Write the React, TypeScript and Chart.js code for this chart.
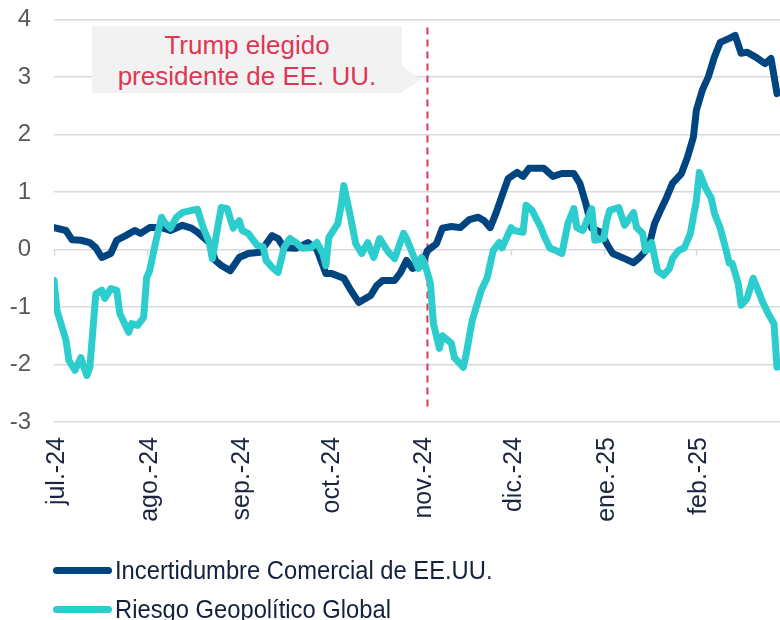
import { useEffect, useRef } from "react";
import { Chart, registerables } from "chart.js";

Chart.register(...registerables);

// Month tick labels and the day offsets (from 1 Jul 2024) at which they start
const monthLabels = ["jul.-24", "ago.-24", "sep.-24", "oct.-24", "nov.-24", "dic.-24", "ene.-25", "feb.-25"];
const monthStartDays = [0, 31, 62, 92, 123, 153, 184, 215];
const lastDay = 243;

// Election marker
const electionDay = 125;
const markerTop = 3.86;
const markerBottom = -2.77;

// Incertidumbre Comercial de EE.UU.
const tradeDays = [0, 4, 6, 9, 12, 14, 16, 19, 21, 24, 27, 29, 32, 36, 39, 43, 46, 48, 52, 54, 56, 59, 62, 65, 69, 73, 75, 77, 81, 85, 88, 91, 93, 97, 99, 102, 106, 108, 110, 114, 116, 118, 120, 123, 125, 128, 130, 133, 136, 139, 142, 144, 146, 148, 150, 152, 155, 157, 159, 164, 167, 170, 174, 176, 178, 180, 183, 185, 187, 191, 194, 196, 199, 201, 203, 205, 207, 210, 212, 214, 215, 217, 219, 221, 223, 226, 228, 230, 232, 235, 238, 240, 242];
const tradeValues = [0.38, 0.33, 0.17, 0.16, 0.12, 0.03, -0.14, -0.07, 0.16, 0.24, 0.33, 0.28, 0.38, 0.38, 0.33, 0.42, 0.37, 0.30, 0.12, -0.19, -0.28, -0.37, -0.14, -0.07, -0.05, 0.24, 0.19, 0.03, 0.02, 0.12, 0.0, -0.42, -0.42, -0.5, -0.68, -0.92, -0.8, -0.63, -0.54, -0.54, -0.40, -0.19, -0.33, -0.28, -0.02, 0.1, 0.37, 0.40, 0.38, 0.52, 0.56, 0.50, 0.38, 0.64, 0.94, 1.23, 1.34, 1.27, 1.41, 1.41, 1.27, 1.32, 1.32, 1.15, 0.80, 0.37, 0.30, 0.10, -0.07, -0.16, -0.23, -0.14, 0.03, 0.45, 0.68, 0.9, 1.15, 1.32, 1.6, 1.95, 2.42, 2.77, 3.0, 3.34, 3.6, 3.67, 3.72, 3.41, 3.43, 3.34, 3.23, 3.32, 2.71];

// Riesgo Geopolítico Global
const geoDays = [0, 1, 4, 5, 7, 9, 10, 11, 12, 14, 16, 17, 19, 21, 22, 25, 26, 28, 30, 31, 32, 34, 36, 37, 39, 41, 43, 46, 48, 50, 52, 53, 55, 56, 58, 60, 62, 63, 65, 68, 70, 71, 73, 75, 77, 79, 81, 83, 86, 88, 90, 91, 92, 95, 96, 97, 99, 101, 103, 105, 107, 109, 112, 114, 117, 118, 120, 122, 123, 124, 126, 127, 129, 130, 133, 134, 137, 138, 140, 143, 145, 147, 149, 150, 153, 154, 157, 158, 160, 163, 164, 166, 168, 170, 172, 174, 175, 177, 180, 181, 184, 185, 186, 189, 191, 194, 195, 197, 198, 200, 202, 204, 206, 207, 209, 211, 213, 215, 216, 218, 220, 221, 223, 225, 226, 227, 229, 230, 232, 234, 236, 237, 239, 241, 242];
const geoValues = [-0.54, -1.06, -1.58, -1.93, -2.1, -1.88, -2.05, -2.19, -2.05, -0.77, -0.71, -0.85, -0.68, -0.71, -1.11, -1.44, -1.29, -1.32, -1.18, -0.49, -0.37, 0.12, 0.56, 0.47, 0.37, 0.56, 0.64, 0.68, 0.7, 0.37, 0.12, -0.16, 0.45, 0.73, 0.71, 0.37, 0.5, 0.33, 0.28, 0.07, 0.05, -0.19, -0.31, -0.4, 0.03, 0.19, 0.12, 0.02, 0.03, 0.12, -0.07, -0.28, 0.21, 0.45, 0.73, 1.11, 0.63, 0.1, -0.07, 0.12, -0.14, 0.19, -0.05, -0.16, 0.28, 0.19, -0.07, -0.33, -0.14, -0.23, -0.59, -1.29, -1.72, -1.5, -1.63, -1.88, -2.05, -1.81, -1.23, -0.71, -0.49, -0.02, 0.12, 0.03, 0.38, 0.33, 0.3, 0.77, 0.68, 0.38, 0.24, 0.02, -0.02, -0.07, 0.45, 0.71, 0.38, 0.33, 0.71, 0.16, 0.19, 0.5, 0.68, 0.73, 0.42, 0.64, 0.38, 0.28, -0.02, 0.12, -0.37, -0.45, -0.33, -0.16, -0.02, 0.03, 0.28, 0.85, 1.34, 1.08, 0.89, 0.64, 0.37, -0.02, -0.24, -0.24, -0.59, -0.97, -0.85, -0.5, -0.75, -0.89, -1.11, -1.29, -2.05];

const seriesNames = ["Incertidumbre Comercial de EE.UU.", "Riesgo Geopolítico Global"];
const seriesColors = ["#00457f", "#2ecdcd"];
const annotationLines = ["Trump elegido", "presidente de EE. UU."];

const FONT = "'Liberation Sans', Arial, sans-serif";
const RED = "#de3755";
const CANVAS_SHIFT = 18;

const overlayPlugin = {
  id: "overlay",
  beforeDatasetsDraw(chart: any) {
    const { ctx } = chart;
    const x = chart.scales.x;
    const y = chart.scales.y;
    ctx.save();
    const y0 = y.getPixelForValue(0);
    ctx.strokeStyle = "#d9d9d9";
    ctx.lineWidth = 1.5;
    monthStartDays.forEach((d) => {
      const px = Math.round(x.getPixelForValue(d)) + 0.5;
      ctx.beginPath();
      ctx.moveTo(px, y0);
      ctx.lineTo(px, y0 + 6);
      ctx.stroke();
    });
    const mx = x.getPixelForValue(electionDay);
    ctx.strokeStyle = RED;
    ctx.lineWidth = 2;
    ctx.setLineDash([7, 5]);
    ctx.beginPath();
    ctx.moveTo(mx, y.getPixelForValue(markerTop));
    ctx.lineTo(mx, y.getPixelForValue(markerBottom));
    ctx.stroke();
    ctx.restore();
  },
};

export default function App() {
  const ref = useRef<HTMLCanvasElement>(null);

  useEffect(() => {
    const chart = new Chart(ref.current as HTMLCanvasElement, {
      type: "line",
      data: {
        datasets: [
          {
            label: seriesNames[0],
            data: tradeDays.map((d, i) => ({ x: d, y: tradeValues[i] })),
            borderColor: seriesColors[0],
            borderWidth: 7,
            pointRadius: 0,
            tension: 0,
            borderCapStyle: "round",
            borderJoinStyle: "round",
            order: 2,
          },
          {
            label: seriesNames[1],
            data: geoDays.map((d, i) => ({ x: d, y: geoValues[i] })),
            borderColor: seriesColors[1],
            borderWidth: 7,
            pointRadius: 0,
            tension: 0,
            borderCapStyle: "round",
            borderJoinStyle: "round",
            order: 1,
          },
        ],
      },
      options: {
        responsive: false,
        animation: false,
        devicePixelRatio: 1,
        layout: { padding: { top: 1, left: 0, right: 0, bottom: 0 } },
        plugins: { legend: { display: false }, tooltip: { enabled: false } },
        scales: {
          x: {
            type: "linear",
            min: 0,
            max: lastDay,
            grid: { display: false, drawTicks: false },
            border: { display: false },
            afterBuildTicks: (scale: any) => {
              scale.ticks = monthStartDays.map((v) => ({ value: v }));
            },
            afterFit: (scale: any) => {
              scale.height = 198;
            },
            ticks: {
              autoSkip: false,
              minRotation: 90,
              maxRotation: 90,
              padding: 15,
              labelOffset: 3,
              color: "#1d2640",
              font: { family: FONT, size: 25 },
              callback: (_v: any, i: number) => monthLabels[i],
            },
          },
          y: {
            min: -3,
            max: 4,
            grid: { color: "#d9d9d9", lineWidth: 1.5, drawTicks: false },
            border: { display: false },
            afterFit: (scale: any) => {
              scale.width = 54;
            },
            ticks: {
              stepSize: 1,
              padding: 23,
              color: "#595959",
              font: { family: FONT, size: 24 },
            },
          },
        },
      },
      plugins: [overlayPlugin],
    } as any);
    return () => chart.destroy();
  }, []);

  return (
    <div style={{ position: "fixed", left: 0, top: 0, width: 780, height: 620, background: "#fff", overflow: "hidden" }}>
      <canvas
        ref={ref}
        width={780}
        height={620 + CANVAS_SHIFT}
        style={{ position: "absolute", left: 0, top: -CANVAS_SHIFT, width: 780, height: 620 + CANVAS_SHIFT }}
      />
      <div
        style={{
          position: "absolute",
          left: 92,
          top: 26,
          width: 310,
          height: 67,
          background: "#f2f2f2",
          display: "flex",
          flexDirection: "column",
          justifyContent: "center",
          alignItems: "center",
          color: RED,
          fontFamily: FONT,
          fontSize: 26,
          lineHeight: "31px",
          paddingTop: 3,
          boxSizing: "border-box",
        }}
      >
        {annotationLines.map((t) => (
          <div key={t}>{t}</div>
        ))}
      </div>
      <div
        style={{
          position: "absolute",
          left: 401,
          top: 65,
          width: 20,
          height: 28,
          background: "#f2f2f2",
          clipPath: "polygon(0 0, 100% 52%, 0 100%)",
        }}
      />
      {seriesNames.map((name, i) => (
        <div
          key={name}
          style={{
            position: "absolute",
            left: 53,
            top: 555 + i * 39,
            height: 30,
            display: "flex",
            alignItems: "center",
            whiteSpace: "nowrap",
          }}
        >
          <div style={{ width: 59, height: 7, borderRadius: 3.5, background: seriesColors[i] }} />
          <div
            style={{
              marginLeft: 3,
              fontFamily: FONT,
              fontSize: 25,
              color: "#13213f",
              transform: "scaleX(0.95)",
              transformOrigin: "left center",
            }}
          >
            {name}
          </div>
        </div>
      ))}
    </div>
  );
}
